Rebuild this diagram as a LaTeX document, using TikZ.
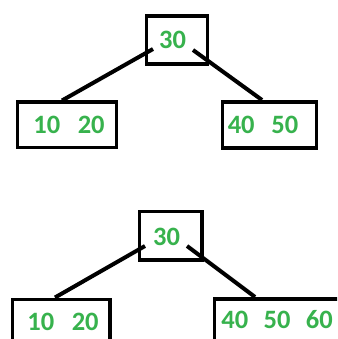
\documentclass[tikz,border=0pt]{standalone}
\usepackage{fontspec}
\setmainfont{Carlito}
\definecolor{keygreen}{RGB}{55,178,77}
\begin{document}
\begin{tikzpicture}[x=1pt,y=-1pt,
  keybox/.style={draw=black,line width=3.8pt,inner sep=0pt,anchor=north west},
  keys/.style={text=keygreen,font=\fontsize{26.5}{30}\selectfont\bfseries,inner sep=0pt},
  edge/.style={draw=black,line width=4pt}]
\useasboundingbox (0,0) rectangle (337,339);
\fill[white] (0,0) rectangle (337,339);
\begin{scope}
\clip (0,0) rectangle (337,339);
% upper tree: root 30 with leaves 10 20 and 40 50
\node[keybox,minimum width=61pt,minimum height=48pt] (ra) at (144.5,14) {};
\node[keybox,minimum width=99pt,minimum height=45pt] (la) at (15.5,100.5) {};
\node[keybox,minimum width=94pt,minimum height=46pt] (ga) at (220.5,100) {};
\node[keys] (ta) at (172.5,40) {30};
\node[keys] (tla) at (69,125) {10\hspace{0.66em}20};
\node[keys] (tga) at (263,125) {40\hspace{0.63em}50};
\coordinate (ra1) at (153,49);
\coordinate (ra2) at (193,50);
\draw[edge] (ra1) -- (la.north -| 62,0);
\draw[edge] (ra2) -- (ga.north -| 262,0);
% lower tree: after inserting 60 the right leaf holds 40 50 60
\node[keybox,minimum width=62.5pt,minimum height=48.5pt] (rb) at (137.5,209.5) {};
\node[keybox,minimum width=97.5pt,minimum height=60pt] (lb) at (10.5,297.5) {};
\node[keybox,minimum width=140pt,minimum height=60pt] (gb) at (212.5,297) {};
\node[keys] (tb) at (166.5,236.5) {30};
\node[keys] (tlb) at (63,321.5) {10\hspace{0.66em}20};
\node[keys] (tgb) at (277,320) {40\hspace{0.58em}50\hspace{0.58em}60};
\coordinate (rb1) at (145,246);
\coordinate (rb2) at (187,246);
\draw[edge] (rb1) -- (lb.north -| 55,0);
\draw[edge] (rb2) -- (gb.north -| 255,0);
\end{scope}
\end{tikzpicture}
\end{document}
